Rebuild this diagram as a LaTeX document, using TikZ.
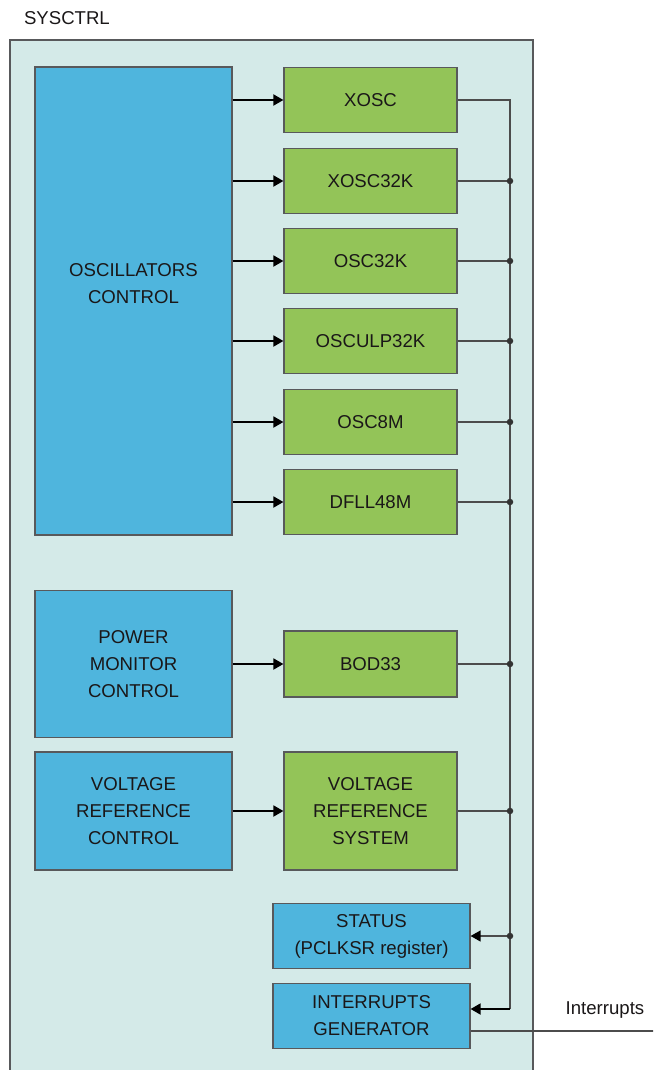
\documentclass[tikz,border=0pt]{standalone}
\usepackage{fontspec}
\setmainfont{Liberation Sans}
\usetikzlibrary{arrows.meta}
\definecolor{sysbg}{HTML}{D4EAE8}
\definecolor{ctrlblue}{HTML}{4FB5DD}
\definecolor{oscgreen}{HTML}{93C458}
\definecolor{edgegray}{HTML}{58595B}
\definecolor{txt}{HTML}{1A1718}
\begin{document}
\begin{tikzpicture}[x=1pt, y=-1pt, font=\fontsize{18.6}{27}\selectfont, >={Triangle[length=10pt,width=11pt,color=black]}]
			\tikzset{ctrl/.style={draw=edgegray, line width=1.2pt, fill=ctrlblue, text=txt, align=center, inner sep=0pt, minimum width=197pt},
				osc/.style={draw=edgegray, line width=1.2pt, fill=oscgreen, text=txt, align=center, inner sep=0pt, minimum width=173pt},
				link/.style={->, line width=1.8pt, black},
				bus/.style={line width=1.3pt, black!70},
				tap/.style={circle, fill=black!80, inner sep=0pt, minimum size=6.5pt}}
			\useasboundingbox (0,0) rectangle (653,1070);
			\clip (0,0) rectangle (653,1070);
			% block frame
			\filldraw[fill=sysbg, draw=edgegray, line width=1.2pt] (10,40) rectangle (533,1085);
			\node[anchor=west, text=txt] (title) at (20.5,18) {SYSCTRL};
			\coordinate (busx) at (510,0);
			% oscillators
			\node[ctrl, minimum height=468pt, label={[align=center, text=txt, yshift=17pt]center:OSCILLATORS\\CONTROL}] (oscctrl) at (133.5,301) {};
			\foreach \name/\lbl/\y in {xosc/XOSC/100, xosc32k/XOSC32K/181, osc32k/OSC32K/261, osculp/OSCULP32K/341, osc8m/OSC8M/422, dfll/DFLL48M/502}{
				\node[osc, minimum height=65pt] (\name) at (370.5,\y) {\lbl};
				\draw[link] (\name.west -| oscctrl.east) -- (\name.west);
				\draw[bus] (\name.east) -- (\name.east -| busx);
			}
			% power and voltage reference
			\node[ctrl, minimum height=147pt] (pwrctrl) at (133.5,664) {POWER\\MONITOR\\CONTROL};
			\node[osc, minimum height=66pt] (bod) at (370.5,664) {BOD33};
			\draw[link] (pwrctrl.east) -- (bod.west);
			\node[ctrl, minimum height=118pt] (vrefctrl) at (133.5,811) {VOLTAGE\\REFERENCE\\CONTROL};
			\node[osc, minimum height=118pt] (vrefsys) at (370.5,811) {VOLTAGE\\REFERENCE\\SYSTEM};
			\draw[link] (vrefctrl.east) -- (vrefsys.west);
			\draw[bus] (bod.east) -- (bod.east -| busx);
			\draw[bus] (vrefsys.east) -- (vrefsys.east -| busx);
			% status and interrupts
			\node[ctrl, minimum height=65pt] (status) at (371.5,936) {STATUS\\(PCLKSR register)};
			\node[ctrl, minimum height=65pt] (intgen) at (371.5,1016) {INTERRUPTS\\GENERATOR};
			\coordinate (intin) at ([yshift=7pt]intgen.east);
			\coordinate (intout) at ([yshift=-15pt]intgen.east);
			\coordinate (irqend) at (660,1031);
			\draw[bus] (xosc.east) -| (intin -| busx);
			\draw[link] (intin -| busx) -- (intin);
			\draw[bus, ->] (status.east -| busx) -- (status.east);
			\draw[bus] (intout) -- (intout -| irqend);
			\node[text=txt] (irqlabel) at (605,1010) {Interrupts};
			\foreach \name in {xosc32k, osc32k, osculp, osc8m, dfll, bod, vrefsys, status}
				\node[tap] at (\name.east -| busx) {};
	\end{tikzpicture}
\end{document}
